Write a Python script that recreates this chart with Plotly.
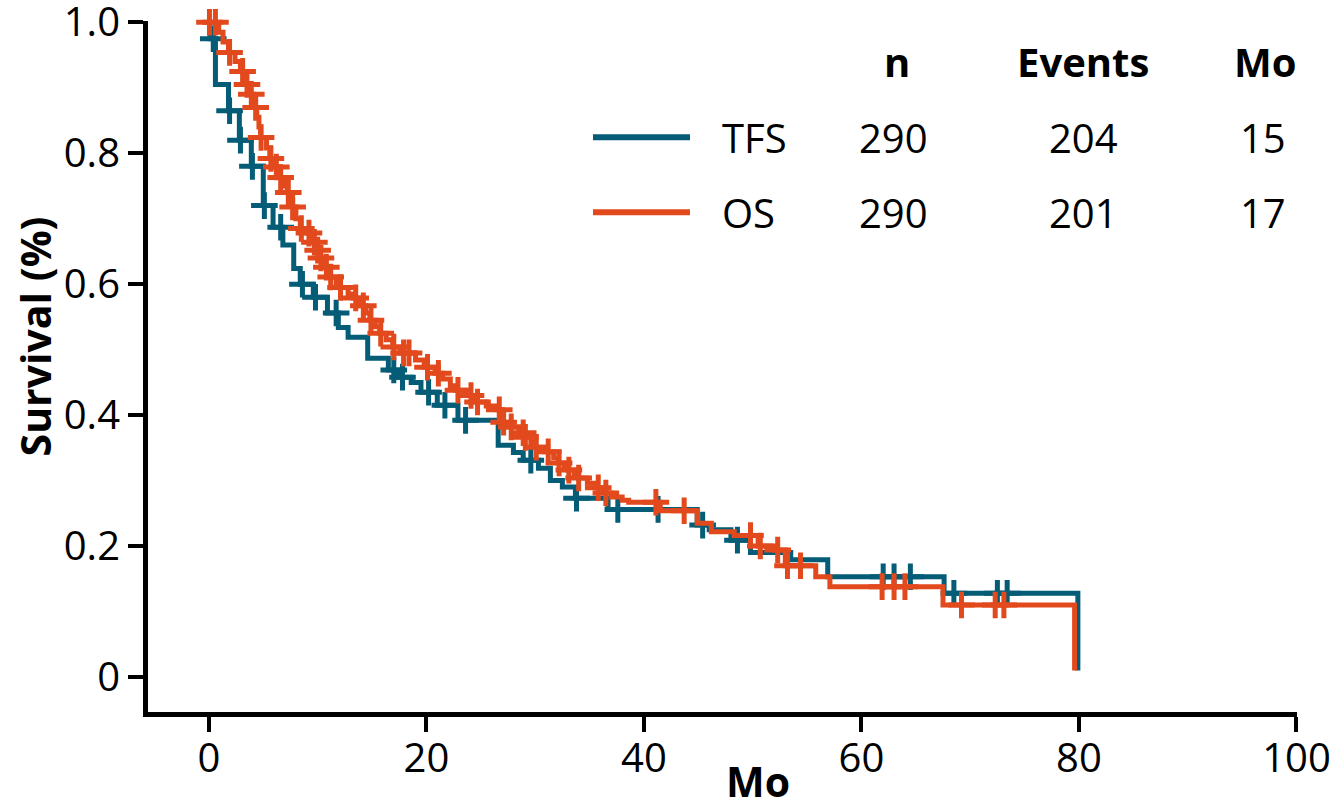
import numpy as np
import plotly.graph_objects as go

# ---- data ----
tfs_time = [0, 0.1, 0.6, 1.8, 2.8, 3.9, 5.0, 5.9, 6.8, 7.8, 8.4, 9.6, 10.9, 11.9, 12.8, 14.6, 16.5,
            17.4, 18.6, 19.5, 21.0, 22.9, 26.6, 28.0, 28.9, 30.3, 31.4, 32.5, 33.7, 36.7, 44.9, 46.0,
            48.0, 49.8, 53.5, 56.9, 67.6, 79.9]
tfs_surv = [0.99, 0.975, 0.905, 0.865, 0.82, 0.78, 0.72, 0.687, 0.66, 0.624, 0.60, 0.58, 0.556, 0.534,
            0.519, 0.487, 0.469, 0.458, 0.45, 0.435, 0.415, 0.392, 0.354, 0.343, 0.331, 0.319, 0.30,
            0.29, 0.273, 0.256, 0.232, 0.225, 0.209, 0.19, 0.179, 0.153, 0.128, 0.01]
tfs_censor = [0.4, 1.9, 2.9, 4.0, 5.1, 6.6, 8.6, 9.8, 11.7, 17.0, 17.8, 20.2, 21.7, 23.6, 29.6, 33.8,
              37.6, 41.3, 45.4, 48.6, 62.0, 63.0, 64.5, 68.5, 72.5, 73.4]

os_time = [0, 0.9, 1.3, 1.8, 2.4, 2.9, 3.3, 3.7, 4.1, 4.4, 4.6, 4.75, 5.3, 5.6, 6.0, 6.4, 7.0, 7.2, 7.5,
           7.7, 8.0, 8.4, 9.0, 9.5, 9.9, 10.2, 10.6, 11.0, 11.7, 12.0, 12.8, 13.3, 13.9, 14.4, 14.8,
           15.3, 15.7, 16.3, 16.9, 17.6, 19.0, 19.8, 20.8, 21.5, 22.2, 22.7, 23.6, 24.3, 25.5, 26.5,
           27.0, 27.6, 28.5, 29.0, 29.6, 30.0, 30.8, 31.7, 32.1, 32.7, 33.0, 33.6, 34.0, 34.8, 35.6,
           36.3, 37.0, 38.0, 38.6, 41.5, 44.9, 46.2, 48.3, 50.5, 52.0, 53.0, 55.8, 57.1, 67.5, 79.6]
os_surv = [1.0, 0.985, 0.97, 0.954, 0.94, 0.925, 0.905, 0.89, 0.87, 0.855, 0.84, 0.824, 0.808, 0.792,
           0.779, 0.763, 0.75, 0.74, 0.728, 0.718, 0.70, 0.685, 0.678, 0.664, 0.652, 0.64, 0.626, 0.611,
           0.60, 0.595, 0.585, 0.579, 0.567, 0.556, 0.545, 0.535, 0.525, 0.515, 0.504, 0.495, 0.484,
           0.473, 0.464, 0.455, 0.445, 0.438, 0.43, 0.42, 0.414, 0.408, 0.389, 0.382, 0.373, 0.366,
           0.358, 0.351, 0.344, 0.335, 0.327, 0.321, 0.316, 0.31, 0.304, 0.296, 0.289, 0.281, 0.275,
           0.27, 0.267, 0.254, 0.235, 0.222, 0.216, 0.2, 0.194, 0.17, 0.153, 0.138, 0.11, 0.01]
os_censor = [0.05, 0.6, 1.9, 3.1, 3.5, 3.9, 4.3, 4.8, 5.7, 6.2, 6.6, 7.3, 7.7, 8.5, 9.2, 9.7, 10.0, 10.3,
             10.8, 11.2, 12.1, 13.5, 14.2, 14.9, 15.8, 17.0, 17.9, 18.4, 20.1, 21.1, 22.9, 24.1, 24.7,
             26.7, 27.1, 27.8, 28.9, 29.1, 30.1, 31.2, 32.2, 33.1, 34.0, 35.8, 36.5, 41.1, 43.7, 49.8,
             50.7, 52.3, 53.2, 54.4, 61.9, 63.0, 64.0, 69.2, 72.3, 73.1]

table_header = ["n", "Events", "Mo"]
tfs_stats = ["290", "204", "15"]
os_stats = ["290", "201", "17"]

x_ticks = [0, 20, 40, 60, 80, 100]
y_ticks = [0, 0.2, 0.4, 0.6, 0.8, 1.0]
y_tick_text = ["0", "0.2", "0.4", "0.6", "0.8", "1.0"]

TEAL = "#045C76"
ORANGE = "#E24A1E"
FONT = "Open Sans"


def surv_at(times, surv, ts):
    times = np.asarray(times)
    surv = np.asarray(surv)
    idx = np.searchsorted(times, np.asarray(ts), side="right") - 1
    return surv[idx]


fig = go.Figure()
for times, surv, cens, col in [(tfs_time, tfs_surv, tfs_censor, TEAL),
                                (os_time, os_surv, os_censor, ORANGE)]:
    fig.add_trace(go.Scatter(x=times, y=surv, mode="lines", line=dict(color=col, width=5, shape="hv"),
                             cliponaxis=False, showlegend=False, hoverinfo="skip"))
    fig.add_trace(go.Scatter(x=cens, y=surv_at(times, surv, cens), mode="markers",
                             marker=dict(symbol="cross-thin", size=19, line=dict(color=col, width=5)),
                             cliponaxis=False, showlegend=False, hoverinfo="skip"))

fig.update_layout(
    width=1334, height=797,
    margin=dict(l=148, r=37, t=21, b=85),
    plot_bgcolor="white", paper_bgcolor="white",
    font=dict(family=FONT, color="black", size=40),
)
fig.update_xaxes(range=[-5.6, 100.05], tickvals=x_ticks, ticks="outside", ticklen=15, tickwidth=4,
                 tickcolor="black", showline=True, linewidth=5, linecolor="black", showgrid=False,
                 zeroline=False, automargin=False, ticklabeloverflow="allow", ticklabelstandoff=-8,
                 tickfont=dict(size=40, family=FONT))
fig.update_yaxes(range=[-0.0535, 1.002], tickvals=y_ticks, ticktext=y_tick_text, ticks="outside",
                 ticklen=15, tickwidth=4, tickcolor="black", showline=True, linewidth=5,
                 linecolor="black", showgrid=False, zeroline=False, automargin=False,
                 ticklabeloverflow="allow", tickfont=dict(size=40, family=FONT))

# axis titles
fig.add_annotation(text="<b>Mo</b>", xref="paper", yref="paper", x=(758 - 148) / 1149,
                   y=(712 - 781) / 690, xanchor="center", yanchor="middle", showarrow=False,
                   font=dict(size=41, family=FONT))
fig.add_annotation(text="<b>Survival (%)</b>", xref="paper", yref="paper", x=(35 - 148) / 1149,
                   y=(712 - 337) / 690, xanchor="center", yanchor="middle", textangle=-90,
                   showarrow=False, font=dict(size=41, family=FONT))


def px(xp):
    return (xp - 148) / 1149


def py(yp):
    return (712 - yp) / 690


col_x = [897, 1083, 1265]
for h, cx in zip(table_header, col_x):
    fig.add_annotation(text="<b>%s</b>" % h, xref="paper", yref="paper", x=px(cx), y=py(62),
                       xanchor="center", yanchor="middle", showarrow=False, font=dict(size=40, family=FONT))
for name, stats, col, yp in [("TFS", tfs_stats, TEAL, 138), ("OS", os_stats, ORANGE, 213)]:
    fig.add_shape(type="line", xref="paper", yref="paper", x0=px(593), x1=px(690), y0=py(yp), y1=py(yp),
                  line=dict(color=col, width=6))
    fig.add_annotation(text=name, xref="paper", yref="paper", x=px(720), y=py(yp), xanchor="left",
                       yanchor="middle", showarrow=False, font=dict(size=40, family=FONT))
    for s, cx in zip(stats, [894, 1083, 1263]):
        fig.add_annotation(text=s, xref="paper", yref="paper", x=px(cx), y=py(yp), xanchor="center",
                           yanchor="middle", showarrow=False, font=dict(size=40, family=FONT))

fig.write_html("out.html")
